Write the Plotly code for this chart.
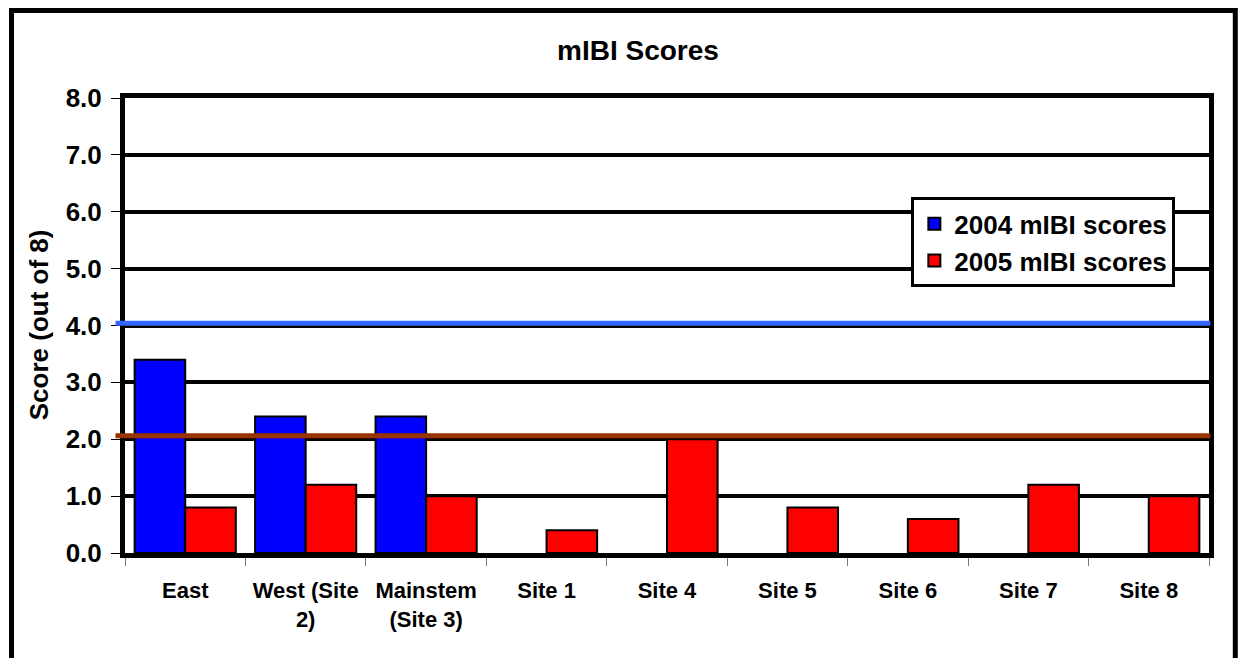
import plotly.graph_objects as go

# Sites and scores
sites = ["East", "West (Site<br>2)", "Mainstem<br>(Site 3)", "Site 1", "Site 4",
         "Site 5", "Site 6", "Site 7", "Site 8"]
scores_2004 = [3.4, 2.4, 2.4, None, None, None, None, None, None]
scores_2005 = [0.8, 1.2, 1.0, 0.4, 2.0, 0.8, 0.6, 1.2, 1.0]

# Reference thresholds drawn across the chart
threshold_high = 4.04
threshold_low = 2.06

y_ticks = [0, 1, 2, 3, 4, 5, 6, 7, 8]
y_tick_text = ["0.0", "1.0", "2.0", "3.0", "4.0", "5.0", "6.0", "7.0", "8.0"]

W, H = 1238, 658
L, R, T, B = 124.5, 1208.7, 97.5, 553.0
pw, ph = R - L, B - T

FONT = "Arial, Liberation Sans, sans-serif"

fig = go.Figure()
fig.add_bar(x=sites, y=scores_2004, name="<b>2004 mIBI scores</b>",
            marker=dict(color="#0000FF", line=dict(color="black", width=2)))
fig.add_bar(x=sites, y=scores_2005, name="<b>2005 mIBI scores</b>",
            marker=dict(color="#FF0000", line=dict(color="black", width=2)))


def px_x(x):
    return (x - L) / pw


def px_y(y):
    return (B - y) / ph


shapes = [
    # threshold lines
    dict(type="line", xref="paper", yref="y", x0=px_x(115), x1=px_x(1210),
         y0=threshold_high, y1=threshold_high, line=dict(color="#3366FF", width=5), layer="above"),
    dict(type="line", xref="paper", yref="y", x0=px_x(115), x1=px_x(1210),
         y0=threshold_low, y1=threshold_low, line=dict(color="#993300", width=5), layer="above"),
    # chart frame
    dict(type="rect", xref="paper", yref="paper", x0=px_x(11), x1=px_x(1235),
         y0=px_y(900), y1=px_y(10), line=dict(color="black", width=5),
         fillcolor="rgba(0,0,0,0)", layer="above"),
]

fig.update_layout(
    width=W, height=H,
    margin=dict(l=L, r=W - R, t=T, b=H - B, pad=0),
    paper_bgcolor="white", plot_bgcolor="white",
    barmode="group", bargap=0.16, bargroupgap=0,
    font=dict(family=FONT, color="black", size=22),
    title=dict(text="<b>mIBI Scores</b>", x=638 / W, xref="container", xanchor="center",
               y=1 - 50 / H, yref="container", yanchor="middle",
               font=dict(size=28, family=FONT, color="black")),
    showlegend=True,
    legend=dict(x=px_x(911), y=px_y(197), xanchor="left", yanchor="top",
                bgcolor="white", bordercolor="black", borderwidth=3,
                font=dict(size=26, family=FONT, color="black"),
                traceorder="normal", itemwidth=30),
    shapes=shapes,
    annotations=[dict(text="<b>Score (out of 8)</b>", textangle=-90, xref="paper", yref="paper",
                      x=px_x(38.5), y=px_y(325), xanchor="center", yanchor="middle",
                      showarrow=False, font=dict(size=26, family=FONT, color="black"))],
)

fig.update_yaxes(
    range=[0, 8], tickvals=y_ticks, ticktext=["<b>%s</b>" % t for t in y_tick_text],
    showgrid=True, gridcolor="black", gridwidth=4, zeroline=False,
    showline=True, linecolor="black", linewidth=5, mirror=True,
    ticks="outside", ticklen=9, tickwidth=1, tickcolor="black",
    ticklabelstandoff=4,
    tickfont=dict(size=26, family=FONT, color="black"),
)
fig.update_xaxes(
    tickvals=sites, ticktext=["<b>%s</b>" % s for s in sites],
    showgrid=False, zeroline=False,
    showline=True, linecolor="black", linewidth=5, mirror=True,
    ticks="outside", tickson="boundaries", ticklen=8, tickwidth=1, tickcolor="#777777",
    ticklabelstandoff=14,
    tickfont=dict(size=22, family=FONT, color="black"),
)

fig.write_html("out.html")
